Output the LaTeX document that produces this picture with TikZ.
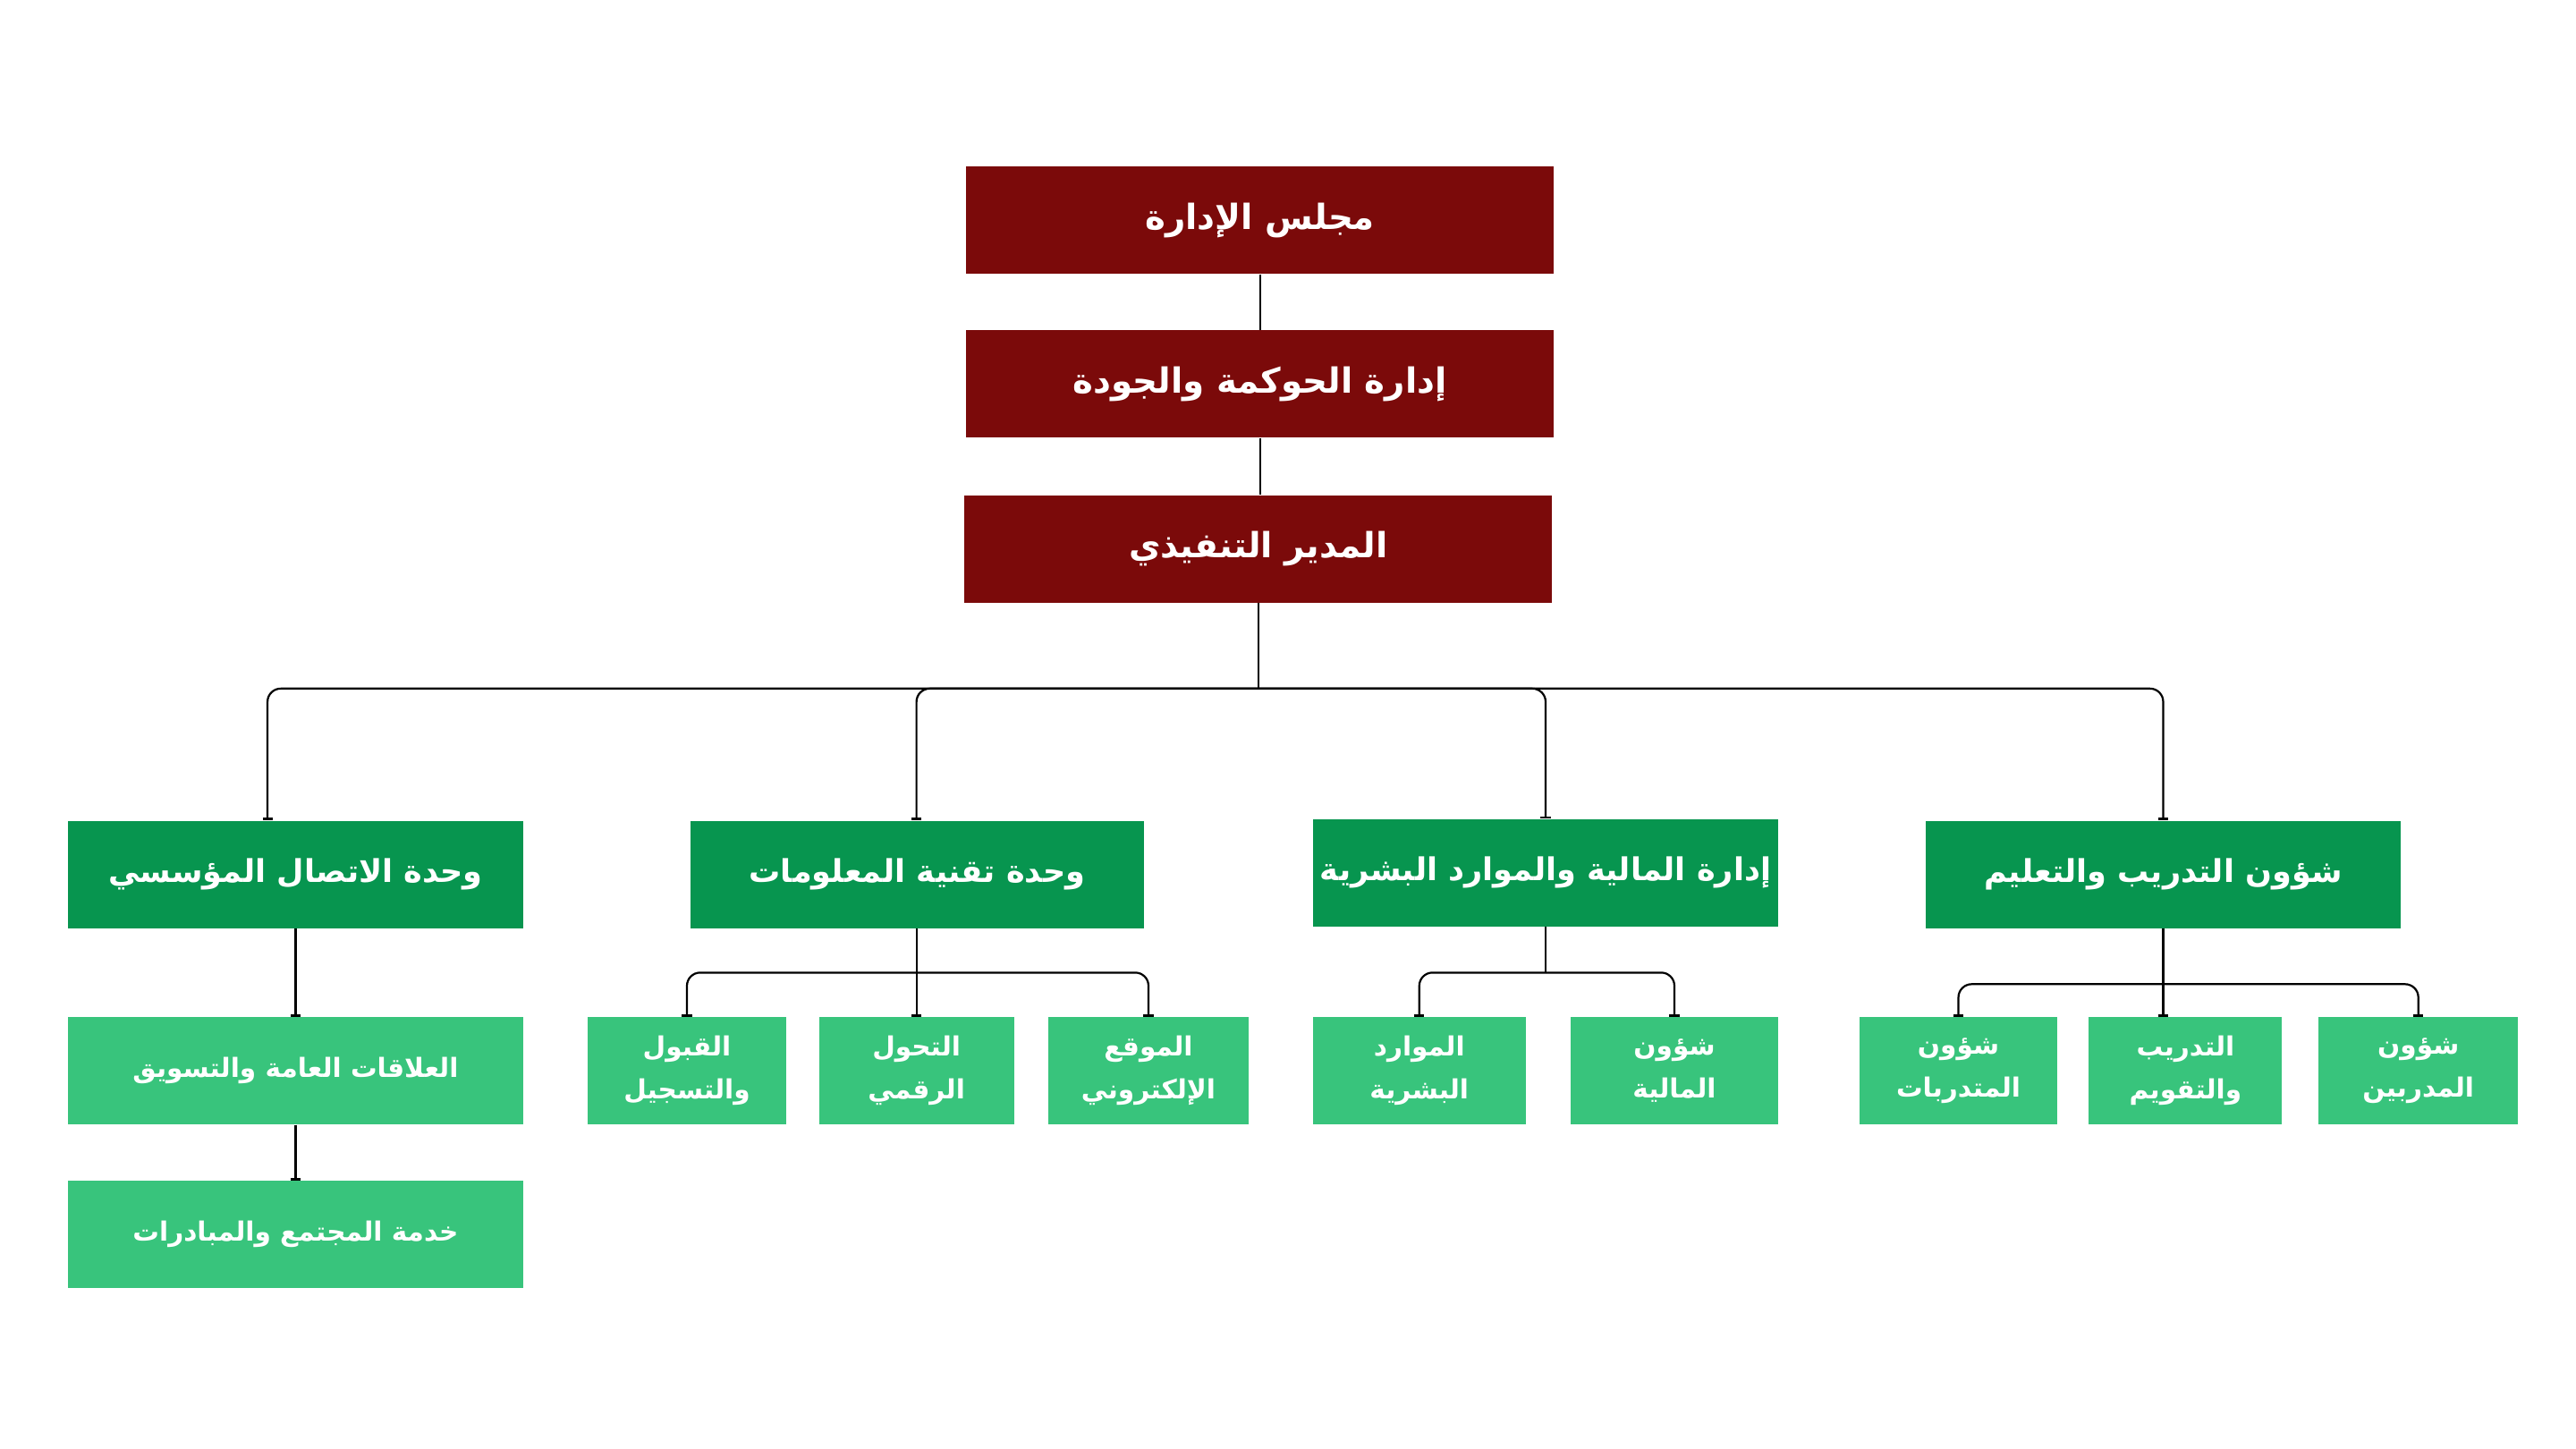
\documentclass[tikz,border=0pt]{standalone}
\usepackage{fontspec}
\TeXXeTstate=1
\newfontfamily\arabicfont[Script=Arabic]{DejaVu Sans}
\usetikzlibrary{arrows.meta}
\newcommand\artxt[1]{\beginR #1\endR}
\definecolor{dred}{HTML}{7B0A0A}
\definecolor{dgreen}{HTML}{07954F}
\definecolor{lgreen}{HTML}{38C47C}
\begin{document}
\begin{tikzpicture}[x=1pt,y=-1pt,
  box/.style={draw=none,text=white,inner sep=0pt,align=center,font=\arabicfont\bfseries},
  conn/.style={line width=1.2pt,rounded corners=8pt,-{Rectangle[length=1.5pt,width=6pt]}},
  plain/.style={line width=1.2pt}]
\useasboundingbox (0,0) rectangle (1560,877.5);
\newcommand\bx[7]{\node[box,fill=#6,minimum width=#3-#2,minimum height=#5-#4,font=\arabicfont\bfseries#7] (#1) at ({(#2+#3)/2},{(#4+#5)/2}) {};}
\bx{board}{585}{941}{101}{166}{dred}{\fontsize{20}{24}\selectfont}
\bx{gov}{585}{941}{200}{265}{dred}{}
\bx{exec}{584}{940}{300}{365}{dred}{}
\bx{comm}{41}{317}{497}{562}{dgreen}{}
\bx{it}{418}{693}{497}{562}{dgreen}{}
\bx{fin}{795}{1077}{496}{561}{dgreen}{}
\bx{tr}{1166}{1454}{497}{562}{dgreen}{}
\bx{pr}{41}{317}{616}{681}{lgreen}{}
\bx{cs}{41}{317}{715}{780}{lgreen}{}
\bx{adm}{356}{476}{616}{681}{lgreen}{}
\bx{dig}{496}{614}{616}{681}{lgreen}{}
\bx{web}{635}{756}{616}{681}{lgreen}{}
\bx{hr}{795}{924}{616}{681}{lgreen}{}
\bx{fa}{951}{1077}{616}{681}{lgreen}{}
\bx{trn}{1126}{1246}{616}{681}{lgreen}{}
\bx{eval}{1265}{1382}{616}{681}{lgreen}{}
\bx{trs}{1404}{1525}{616}{681}{lgreen}{}
\tikzset{big/.style={text=white,font=\arabicfont\bfseries\fontsize{21}{25}\selectfont},
 mid/.style={text=white,font=\arabicfont\bfseries\fontsize{19}{23}\selectfont},
 sm/.style={text=white,align=center,font=\arabicfont\bfseries\fontsize{16}{26}\selectfont}}
\node[big] at (board) {\artxt{مجلس الإدارة}};
\node[big] at (gov) {\artxt{إدارة الحوكمة والجودة}};
\node[big] at (exec) {\artxt{المدير التنفيذي}};
\node[mid] at (comm) {\artxt{وحدة الاتصال المؤسسي}};
\node[mid] at (it) {\artxt{وحدة تقنية المعلومات}};
\node[mid] at (fin) {\artxt{إدارة المالية والموارد البشرية}};
\node[mid] at (tr) {\artxt{شؤون التدريب والتعليم}};
\node[sm] at (pr) {\artxt{العلاقات العامة والتسويق}};
\node[sm] at (cs) {\artxt{خدمة المجتمع والمبادرات}};
\node[sm] at (adm) {\artxt{القبول}\\\artxt{والتسجيل}};
\node[sm] at (dig) {\artxt{التحول}\\\artxt{الرقمي}};
\node[sm] at (web) {\artxt{الموقع}\\\artxt{الإلكتروني}};
\node[sm] at (hr) {\artxt{الموارد}\\\artxt{البشرية}};
\node[sm] at (fa) {\artxt{شؤون}\\\artxt{المالية}};
\node[sm] at (trn) {\artxt{شؤون}\\\artxt{المتدربات}};
\node[sm] at (eval) {\artxt{التدريب}\\\artxt{والتقويم}};
\node[sm] at (trs) {\artxt{شؤون}\\\artxt{المدربين}};
\draw[plain] (board.south) -- (gov.north);
\draw[plain] (gov.south) -- (exec.north -| gov.south);
\coordinate (bus) at (exec.south |- 0,417);
\draw[plain] (exec.south) -- (bus);
\draw[conn] (bus) -| (comm.north -| 162,0);
\draw[conn] (bus) -| (it.north -| 555,0);
\draw[conn] (bus) -| (fin.north);
\draw[conn] (bus) -| (tr.north -| 1310,0);
\draw[conn] (comm.south -| 179,0) -- (pr.north -| 179,0);
\draw[conn] (pr.south -| 179,0) -- (cs.north -| 179,0);
\coordinate (itb) at (555,589);
\draw[plain] (it.south -| itb) -- (itb);
\draw[conn] (itb) -| (adm.north);
\draw[conn] (itb) -- (dig.north -| itb);
\draw[conn] (itb) -| (web.north);
\coordinate (finb) at (936,589);
\draw[plain] (fin.south -| finb) -- (finb);
\draw[conn] (finb) -| (hr.north);
\draw[conn] (finb) -| (fa.north);
\coordinate (trb) at (1310,596);
\draw[plain] (tr.south -| trb) -- (trb);
\draw[conn] (trb) -| (trn.north);
\draw[conn] (trb) -- (eval.north -| trb);
\draw[conn] (trb) -| (trs.north);
\end{tikzpicture}
\end{document}
